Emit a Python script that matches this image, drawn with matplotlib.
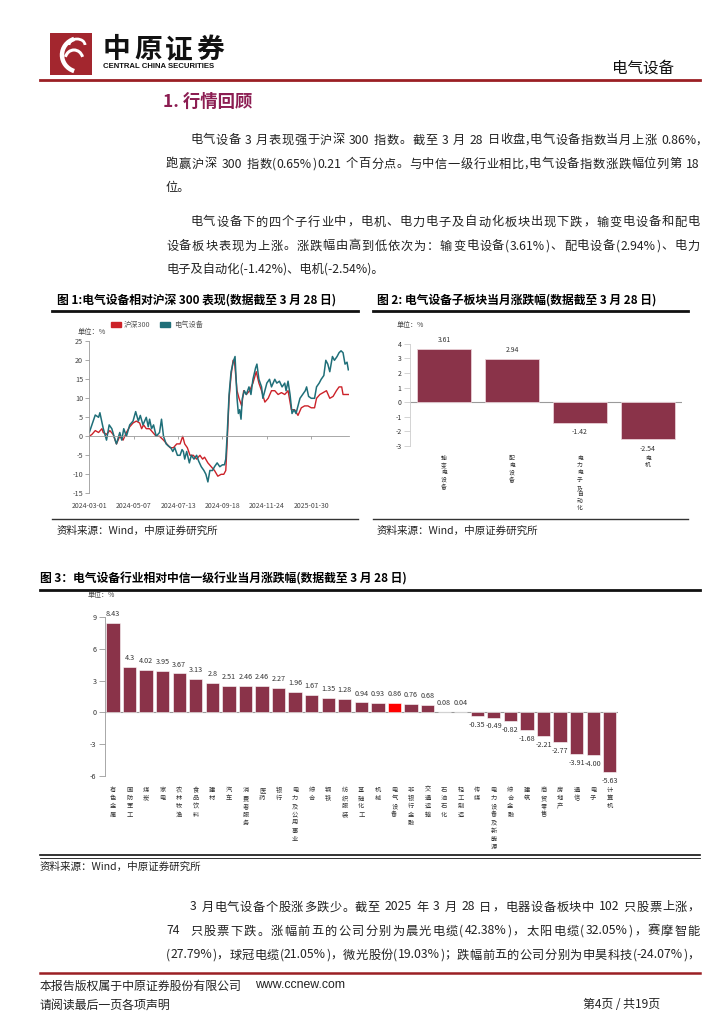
import re
import numpy as np
import pandas as pd
import matplotlib
matplotlib.use("Agg")
import matplotlib.pyplot as plt
from matplotlib.patches import Rectangle, Arc, Patch

plt.rcParams['font.family'] = ['Noto Sans CJK SC', 'DejaVu Sans']
plt.rcParams['axes.unicode_minus'] = False

# ---------------- data ----------------
start_date = "2024-03-01"
x_tick_labels = ["2024-03-01", "2024-05-07", "2024-07-13", "2024-09-18", "2024-11-24", "2025-01-30"]

hs300_days = [0, 4, 9, 14, 19, 21, 26, 31, 36, 41, 46, 51, 56, 61, 66, 71, 76, 79, 82, 86, 91, 96,
              101, 106, 112, 117, 122, 127, 132, 137, 141, 144, 148, 152, 157, 162, 167, 171, 174,
              179, 184, 189, 194, 199, 203, 206, 208, 211, 214, 217, 219, 223, 226, 230, 233, 237,
              242, 247, 252, 256, 260, 265, 270, 275, 280, 285, 290, 295, 300, 305, 310, 315, 320,
              325, 330, 335, 340, 343, 348, 353, 358, 363, 368, 373, 377, 381, 383, 388, 391]
hs300_vals = [0, 0.5, 1.5, 1, 2, 1, 0.5, 1.5, 0.5, -2, 0, -1, 1, 2.5, 3.5, 4, 3.5, 2, 3, 2, 2, 1,
              0, 0, -1, -2, -3, -3, -2, -2, 0, -2, -3, -5, -5, -6, -5, -6, -5.5,
              -7, -8, -9, -10.5, -10, -10, -9, -2, 10, 16, 20, 20, 12, 10, 8, 12, 11,
              12, 14, 17, 14, 12, 9, 10, 12, 12, 11, 11.5, 11, 12, 7, 7, 5.5, 7.5,
              8, 8, 7.5, 7.5, 10, 11, 11.5, 12, 10, 10.5, 12, 13, 13, 11, 11, 11]

elec_days = [0, 9, 14, 16, 21, 26, 30, 34, 39, 41, 46, 49, 52, 56, 61, 66, 70, 74, 77, 81, 86, 89,
             91, 94, 97, 101, 106, 109, 112, 116, 119, 123, 126, 129, 133, 137, 140, 142, 144, 147,
             151, 154, 158, 162, 165, 169, 173, 176, 179, 182, 186, 189, 193, 197, 201, 204, 206,
             208, 211, 214, 218, 220, 223, 225, 227, 229, 231, 234, 237, 241, 244, 247, 251, 253,
             256, 260, 262, 265, 268, 272, 275, 280, 283, 287, 291, 295, 297, 300, 303, 306, 309,
             312, 315, 318, 322, 326, 328, 331, 335, 340, 343, 347, 350, 354, 357, 360, 363, 367,
             370, 374, 377, 380, 383, 386, 389, 391]
elec_vals = [1, 5.6, 5, 6.2, 2.1, -1, 3, 2, -1, -2, 1, -1, 2, 0, 3, 4, 6.5, 4, 5.5, 3, 5, 2.5,
             4.5, 2, 3, 0, 1, 4.5, 0, -2, -2.5, -3, -4, -3, -5, -5, -3.5, -4, -6, -4,
             -7, -5, -6, -5, -6.5, -8, -9, -10, -12, -9, -9, -8, -7, -8, -7.5, -7.5, -6,
             0, 11, 17, 20, 21, 10, 6, 7, 4.5, 10, 12, 11, 13, 11, 15, 18, 19,
             15, 13, 10, 12, 14, 15, 13, 15, 14, 14.5, 13, 14, 12, 14.5, 11, 6, 7,
             6, 8, 10, 11, 12, 13, 10.5, 10, 10, 13, 14, 15, 16, 20, 19, 17, 21,
             20, 21, 22, 22.5, 22, 19, 19.5, 17.5]

sub_names = ["输变电设备", "配电设备", "电力电子及自动化", "电机"]
sub_vals = [3.61, 2.94, -1.42, -2.54]

ind_names = ["有色金属", "国防军工", "煤炭", "家电", "农林牧渔", "食品饮料", "建材", "汽车",
             "消费者服务", "医药", "银行", "电力及公用事业", "综合", "钢铁", "纺织服装", "基础化工",
             "机械", "电气设备", "非银行金融", "交通运输", "石油石化", "轻工制造", "传媒",
             "电力设备及新能源", "综合金融", "建筑", "商贸零售", "房地产", "通信", "电子", "计算机"]
ind_vals = [8.43, 4.3, 4.02, 3.95, 3.67, 3.13, 2.8, 2.51, 2.46, 2.46, 2.27, 1.96, 1.67, 1.35, 1.28,
            0.94, 0.93, 0.86, 0.76, 0.68, 0.08, 0.04, -0.35, -0.49, -0.82, -1.68, -2.21, -2.77,
            -3.91, -4.00, -5.63]
highlight = "电气设备"

para1 = ["电气设备 3 月表现强于沪深 300 指数。截至 3 月 28 日收盘,电气设备指数当月上涨 0.86%,",
         "跑赢沪深 300 指数(0.65%)0.21 个百分点。与中信一级行业相比,电气设备指数涨跌幅位列第 18",
         "位。"]
para2 = ["电气设备下的四个子行业中，电机、电力电子及自动化板块出现下跌，输变电设备和配电",
         "设备板块表现为上涨。涨跌幅由高到低依次为：输变电设备(3.61%)、配电设备(2.94%)、电力",
         "电子及自动化(-1.42%)、电机(-2.54%)。"]
para3 = ["3 月电气设备个股涨多跌少。截至 2025 年 3 月 28 日，电器设备板块中 102 只股票上涨，",
         "74  只股票下跌。涨幅前五的公司分别为晨光电缆(42.38%)，太阳电缆(32.05%)，赛摩智能",
         "(27.79%)，球冠电缆(21.05%)，微光股份(19.03%)；跌幅前五的公司分别为申昊科技(-24.07%)，"]

title1 = "图 1:电气设备相对沪深 300 表现(数据截至 3 月 28 日)"
title2 = "图 2: 电气设备子板块当月涨跌幅(数据截至 3 月 28 日)"
title3 = "图 3：电气设备行业相对中信一级行业当月涨跌幅(数据截至 3 月 28 日)"
source = "资料来源：Wind，中原证券研究所"

# ---------------- styling ----------------
W, H = 724, 1024
MAROON = "#8a3349"
TEAL = "#1f6f79"
RED = "#cc2229"
HDR_RED = "#9b1f24"
GRAY = "#9a9a9a"
TXT = "#222222"

fig = plt.figure(figsize=(W / 100, H / 100), dpi=100)


def fx(x):
    return x / W


def fy(y):
    return 1 - y / H


def axes_px(left, top, right, bottom):
    return fig.add_axes([fx(left), fy(bottom), (right - left) / W, (bottom - top) / H])


def hline(x0, x1, y, lw, color):
    fig.add_artist(plt.Line2D([fx(x0), fx(x1)], [fy(y), fy(y)], lw=lw, color=color,
                              transform=fig.transFigure))


renderer = fig.canvas.get_renderer()


def tokens(s):
    return re.findall(r'[0-9A-Za-z.%\-]+|\s|.', s)


def jline(s, x0, x1, y, size, **kw):
    toks = tokens(s)
    ws = []
    for t in toks:
        tx = fig.text(0, 0, t if not t.isspace() else "a", fontsize=size, **kw)
        w = tx.get_window_extent(renderer).width
        if t.isspace():
            w *= 0.5
        ws.append(w)
        tx.remove()
    gap = (x1 - x0 - sum(ws)) / max(len(toks) - 1, 1)
    x = x0
    for t, w in zip(toks, ws):
        if not t.isspace():
            fig.text(fx(x), fy(y), t, fontsize=size, ha="left", va="center", color=TXT, **kw)
        x += w + gap


def paragraph(lines, ys, size, last_justified=False):
    for i, (s, y) in enumerate(zip(lines, ys)):
        x0 = 190 if i == 0 else 166
        if i < len(lines) - 1 or last_justified:
            jline(s, x0, 700, y, size)
        else:
            fig.text(fx(x0), fy(y), s, fontsize=size, ha="left", va="center", color=TXT)


def vertical_label(ax, i, name, size, pitch_pt, start_pt=7.2):
    # stack characters vertically below the axes, one character per row
    for k, ch in enumerate(name):
        ax.annotate(ch, (i, 0), xycoords=("data", "axes fraction"),
                    xytext=(0, -start_pt - k * pitch_pt), textcoords="offset points",
                    ha="center", va="top", fontsize=size, color="#333333",
                    annotation_clip=False)


# ---------------- header ----------------
lax = fig.add_axes([fx(50), fy(75), 42 / W, 42 / H])
lax.set_xlim(0, 42)
lax.set_ylim(42, 0)
lax.axis("off")
lax.add_patch(Rectangle((0, 0), 42, 42, color="#a3262e"))
lax.add_patch(Arc((30, 22), 36, 34, theta1=110, theta2=250, lw=3.2, color="white"))
lax.add_patch(Arc((24, 27), 18, 20, theta1=200, theta2=340, lw=2.2, color="white"))
lax.add_patch(Arc((27, 12), 16, 12, theta1=180, theta2=360, lw=2.0, color="white"))

for i, ch in enumerate("中原证券"):
    fig.text(fx(103 + i * 31), fy(50), ch, fontsize=20, fontweight="bold", ha="left",
             va="center", color="#111111")
fig.text(fx(103), fy(67), "CENTRAL CHINA SECURITIES", fontsize=5.6, fontweight="bold",
         family="Liberation Sans", ha="left", va="center", color="#111111")
fig.text(fx(612), fy(68), "电气设备", fontsize=11.2, ha="left", va="center", color="#111111")
hline(40, 700, 80, 2.0, HDR_RED)

fig.text(fx(163), fy(102), "1. 行情回顾", fontsize=12.5, fontweight="bold", ha="left",
         va="center", color="#8c1d52")

paragraph(para1, [140, 164, 188], 8.8)
paragraph(para2, [222, 246, 270], 8.8)
paragraph(para3, [907, 931, 955], 8.8, last_justified=True)

# ---------------- figure titles ----------------
fig.text(fx(57), fy(300), title1, fontsize=8.5, fontweight="bold", ha="left", va="center")
fig.text(fx(377), fy(300), title2, fontsize=8.5, fontweight="bold", ha="left", va="center")
hline(52, 358, 311, 2.0, "#111111")
hline(373, 688, 311, 2.0, "#111111")

for x0, x1 in [(52, 358), (373, 688)]:
    hline(x0, x1, 519, 1.0, "#333333")
fig.text(fx(57), fy(531), source, fontsize=7.6, ha="left", va="center", color=TXT)
fig.text(fx(377), fy(531), source, fontsize=7.6, ha="left", va="center", color=TXT)

# ---------------- chart 1 ----------------
ax1 = axes_px(89.3, 341.3, 349, 493.3)
ax1.plot(hs300_days, hs300_vals, color=RED, lw=1.0, label="沪深300")
ax1.plot(elec_days, elec_vals, color=TEAL, lw=1.1, label="电气设备")
t0 = pd.Timestamp(start_date)
tick_days = [(pd.Timestamp(s) - t0).days for s in x_tick_labels]
end_day = (pd.Timestamp("2025-03-28") - t0).days
ax1.set_xlim(0, end_day)
ax1.set_ylim(-15, 25)
ax1.set_yticks(np.arange(-15, 26, 5))
for sp in ["top", "right"]:
    ax1.spines[sp].set_visible(False)
ax1.spines["left"].set_color(GRAY)
ax1.spines["left"].set_linewidth(0.6)
ax1.spines["bottom"].set_position(("data", 0))
ax1.spines["bottom"].set_color(GRAY)
ax1.spines["bottom"].set_linewidth(0.6)
ax1.set_xticks(tick_days)
ax1.tick_params(axis="x", labelbottom=False, length=2.5, width=0.6, color=GRAY)
ax1.tick_params(axis="y", labelsize=5.2, length=3, width=0.6, color=GRAY, labelcolor="#444444", pad=1.5)
sec = ax1.secondary_xaxis("bottom")
sec.set_xticks(tick_days, x_tick_labels)
sec.tick_params(length=0, labelsize=5, labelcolor="#444444", pad=6)
sec.spines["bottom"].set_visible(False)
ax1.legend(handles=[Patch(color=RED, label="沪深300"), Patch(color=TEAL, label="电气设备")],
           loc="center left", bbox_to_anchor=(fx(104), fy(325)), bbox_transform=fig.transFigure,
           ncol=2, frameon=False, fontsize=5.2, handlelength=1.4, handleheight=0.7,
           handletextpad=0.5, columnspacing=1.3, labelcolor="#555555")
fig.text(fx(78), fy(332), "单位：%", fontsize=5.2, ha="left", va="center", color="#444444")

# ---------------- chart 2 ----------------
ax2 = axes_px(410, 343.7, 682, 446)
xs2 = np.arange(len(sub_names))
ax2.bar(xs2, sub_vals, width=0.8, color=MAROON, edgecolor="#e8d0d6", linewidth=0.6)
ax2.set_xlim(-0.5, 3.5)
ax2.set_ylim(-3, 4)
ax2.set_yticks(np.arange(-3, 5, 1))
ax2.axhline(0, color=GRAY, lw=0.8, zorder=0)
for sp in ["top", "right", "bottom"]:
    ax2.spines[sp].set_visible(False)
ax2.spines["left"].set_color("#cccccc")
ax2.spines["left"].set_linewidth(0.6)
ax2.set_xticks([])
ax2.tick_params(axis="y", labelsize=5, length=4, width=0.6, color="#cccccc", labelcolor="#333333", pad=2)
for i, v in enumerate(sub_vals):
    ax2.annotate(f"{v:.2f}", (i, v), xytext=(0, 4 if v >= 0 else -4), textcoords="offset points",
                 ha="center", va="bottom" if v >= 0 else "top", fontsize=5, color="#333333",
                 annotation_clip=False)
    vertical_label(ax2, i, sub_names[i], 4.2, 5.1, start_pt=7.4)
fig.text(fx(397), fy(325), "单位：%", fontsize=5, ha="left", va="center", color="#444444")

# ---------------- chart 3 ----------------
fig.text(fx(40), fy(579), title3, fontsize=8.5, fontweight="bold", ha="left", va="center")
hline(40, 700, 590, 2.0, "#111111")
ax3 = axes_px(104.7, 617, 618, 776)
xs3 = np.arange(len(ind_names))
colors3 = ["#ff0000" if n == highlight else MAROON for n in ind_names]
ax3.bar(xs3, ind_vals, width=0.8, color=colors3, edgecolor="white", linewidth=0.4)
ax3.set_xlim(-0.5, len(ind_names) - 0.5)
ax3.set_ylim(-6, 9)
ax3.set_yticks(np.arange(-6, 10, 3))
ax3.axhline(0, color=GRAY, lw=0.8, zorder=0)
for sp in ["top", "right", "bottom"]:
    ax3.spines[sp].set_visible(False)
ax3.spines["left"].set_color(GRAY)
ax3.spines["left"].set_linewidth(0.6)
ax3.set_xticks([])
ax3.tick_params(axis="y", labelsize=5.2, length=4, width=0.6, color=GRAY, labelcolor="#333333", pad=2)
for i, v in enumerate(ind_vals):
    ax3.annotate(f"{v:g}" if abs(v) != 4.0 else f"{v:.2f}", (i, v),
                 xytext=(0, 3.5 if v >= 0 else -3.5), textcoords="offset points",
                 ha="center", va="bottom" if v >= 0 else "top", fontsize=5.2, color="#333333",
                 annotation_clip=False)
    vertical_label(ax3, i, ind_names[i], 4.5, 5.9, start_pt=7.2)
fig.text(fx(88), fy(595), "单位：%", fontsize=5, ha="left", va="center", color="#444444")

hline(40, 700, 855, 1.2, "#111111")
hline(40, 700, 857.5, 0.6, "#111111")
fig.text(fx(40), fy(867), source, fontsize=7.6, ha="left", va="center", color=TXT)

# ---------------- footer ----------------
hline(40, 700, 973, 1.8, HDR_RED)
fig.text(fx(40), fy(986), "本报告版权属于中原证券股份有限公司", fontsize=8.6, ha="left", va="center", color=TXT)
fig.text(fx(255), fy(985), "www.ccnew.com", fontsize=8.8, family="Liberation Sans", ha="left",
         va="center", color=TXT)
fig.text(fx(40), fy(1005), "请阅读最后一页各项声明", fontsize=8.6, ha="left", va="center", color=TXT)
fig.text(fx(583), fy(1005), "第4页 / 共19页", fontsize=8.6, ha="left", va="center", color=TXT)

fig.savefig("out.png", dpi=100)
